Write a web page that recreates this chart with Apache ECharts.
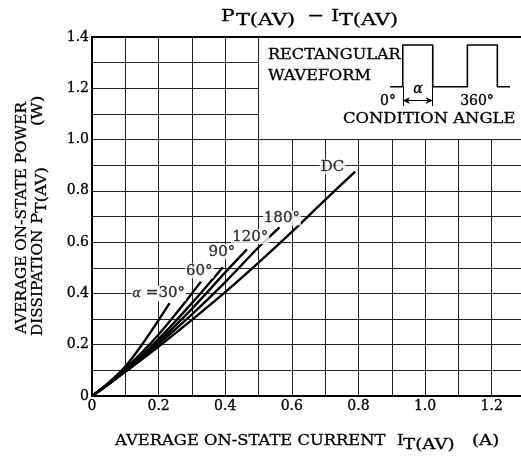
<!DOCTYPE html>
<html><head><meta charset="utf-8">
<script src="https://cdn.jsdelivr.net/npm/echarts@6/dist/echarts.min.js"></script>
<style>html,body{margin:0;padding:0;background:#fff}#c{width:521px;height:461px}</style>
</head><body><div id="c"></div>
<script>
// ---- data ----
const dcX   = [0, 0.05, 0.1, 0.2, 0.3, 0.4, 0.5, 0.6, 0.7, 0.79];
const dcY   = [0, 0.046, 0.094, 0.193, 0.297, 0.405, 0.52, 0.64, 0.765, 0.875];
const a180X = [0, 0.05, 0.1, 0.2, 0.3, 0.4, 0.5, 0.563];
const a180Y = [0, 0.047, 0.097, 0.203, 0.318, 0.444, 0.58, 0.658];
const a120X = [0, 0.05, 0.1, 0.2, 0.3, 0.4, 0.465];
const a120Y = [0, 0.047, 0.099, 0.212, 0.34, 0.482, 0.572];
const a90X  = [0, 0.05, 0.1, 0.2, 0.3, 0.393];
const a90Y  = [0, 0.048, 0.1, 0.222, 0.362, 0.502];
const a60X  = [0, 0.05, 0.1, 0.15, 0.2, 0.25, 0.3, 0.327];
const a60Y  = [0, 0.049, 0.106, 0.17, 0.24, 0.318, 0.4, 0.446];
const a30X  = [0, 0.05, 0.1, 0.15, 0.2, 0.233];
const a30Y  = [0, 0.052, 0.115, 0.2, 0.296, 0.362];

const labelText = ['{a|α}{b| =30°}', '60°', '90°', '120°', '180°', 'DC'];
const labelX    = [0.2, 0.322, 0.39, 0.475, 0.57, 0.722];
const labelY    = [0.4, 0.488, 0.563, 0.621, 0.694, 0.894];

const xTickLabels = ['0', '0.2', '0.4', '0.6', '0.8', '1.0', '1.2'];
const yTickLabels = ['0', '0.2', '0.4', '0.6', '0.8', '1.0', '1.2', '1.4'];

// inset waveform (drawn in axis units)
const waveX = [0.895, 0.933, 0.933, 1.023, 1.023, 1.127, 1.127, 1.217, 1.217, 1.255];
const waveY = [1.206, 1.206, 1.369, 1.369, 1.206, 1.206, 1.369, 1.369, 1.206, 1.206];
const insetBox = [[0.5, 1.0], [1.3, 1.4]];
const arrowX = [0.933, 1.023], arrowY = 1.152, extBottom = 1.131;

// ---- chart ----
const FONT = 'DejaVu Serif';
const INK = { textBorderColor: '#000', textBorderWidth: 0.3 };
const pairs = (xs, ys) => xs.map((x, i) => [x, ys[i]]);
function tickFmt(list) {
  return v => {
    const k = Math.round(v * 10);
    if (k % 2) return '';
    const s = k === 0 ? '0' : (k / 10).toFixed(1);
    return list.indexOf(s) >= 0 ? s : '';
  };
}
const curveStyle = { color: '#000', width: 2.4 };
function curve(name, xs, ys) {
  return { name, type: 'line', data: pairs(xs, ys), showSymbol: false, symbol: 'none',
    smooth: 0.3, lineStyle: curveStyle, silent: true, z: 3 };
}

const chart = echarts.init(document.getElementById('c'), null, { renderer: 'canvas' });
const txt = (text, x, y, size, sx, extra) => ({
  type: 'text', x, y, scaleX: sx || 1, silent: true, z: 100,
  style: Object.assign({ text, fontFamily: FONT, fontSize: size, fill: '#000',
    stroke: '#000', lineWidth: 0.3,
    textVerticalAlign: 'middle', textAlign: 'left' }, extra || {})
});

chart.setOption({
  animation: false,
  backgroundColor: '#fff',
  grid: { left: 92, top: 37, width: 433, height: 359, containLabel: false, outerBoundsMode: 'none' },
  xAxis: [{
    type: 'value', min: 0, max: 1.3, interval: 0.1, position: 'bottom',
    axisLine: { show: true, onZero: false, lineStyle: { color: '#000', width: 2 } },
    axisTick: { show: false },
    splitLine: { show: true, lineStyle: { color: '#222', width: 1 } },
    axisLabel: Object.assign({ formatter: tickFmt(xTickLabels), color: '#000', fontFamily: FONT, fontSize: 14, margin: 3,
      showMaxLabel: true, showMinLabel: true }, INK)
  }, {
    type: 'value', min: 0, max: 1.3, position: 'top', z: 10,
    axisLine: { show: true, onZero: false, lineStyle: { color: '#000', width: 2 } },
    axisTick: { show: false }, axisLabel: { show: false }, splitLine: { show: false }
  }],
  yAxis: [{
    type: 'value', min: 0, max: 1.4, interval: 0.1,
    axisLine: { show: true, onZero: false, lineStyle: { color: '#000', width: 2 } },
    axisTick: { show: false },
    splitLine: { show: true, lineStyle: { color: '#222', width: 1 } },
    axisLabel: Object.assign({ formatter: tickFmt(yTickLabels), color: '#000', fontFamily: FONT, fontSize: 14, margin: 3,
      showMaxLabel: true, showMinLabel: true }, INK)
  }],
  series: [
    { type: 'line', data: [], silent: true, z: 2,
      markArea: { silent: true, itemStyle: { color: '#fff', borderColor: '#222', borderWidth: 1 },
        data: [[{ coord: insetBox[0] }, { coord: insetBox[1] }]] } },
    { type: 'line', data: pairs(waveX, waveY), symbol: 'none', showSymbol: false, silent: true, z: 4,
      lineStyle: { color: '#000', width: 1.6 },
      markLine: { silent: true, symbol: ['arrow', 'arrow'], symbolSize: [5, 7], animation: false,
        label: { show: false }, lineStyle: { color: '#000', width: 1, type: 'solid' },
        data: [
          [{ coord: [arrowX[0], arrowY] }, { coord: [arrowX[1], arrowY] }],
          [{ coord: [arrowX[0], waveY[0]], symbol: 'none' }, { coord: [arrowX[0], extBottom], symbol: 'none' }],
          [{ coord: [arrowX[1], waveY[0]], symbol: 'none' }, { coord: [arrowX[1], extBottom], symbol: 'none' }]
        ] } },
    curve('DC', dcX, dcY),
    curve('180°', a180X, a180Y),
    curve('120°', a120X, a120Y),
    curve('90°', a90X, a90Y),
    curve('60°', a60X, a60Y),
    curve('30°', a30X, a30Y),
    { type: 'scatter', symbolSize: 0, silent: true, z: 5,
      data: labelX.map((x, i) => ({ value: [x, labelY[i]], name: labelText[i] })),
      label: Object.assign({ show: true, position: 'inside', formatter: p => p.name, color: '#000',
        fontFamily: FONT, fontSize: 15, backgroundColor: '#fff', padding: [0, 1],
        rich: { a: Object.assign({ fontFamily: FONT, fontStyle: 'italic', fontSize: 13, backgroundColor: '#fff' }, INK),
                b: Object.assign({ fontFamily: FONT, fontSize: 15, backgroundColor: '#fff' }, INK) } }, INK) }
  ],
  graphic: [
    // title
    txt('P', 221, 17, 17, 1.2),
    txt('T(AV)', 236, 21, 16, 1.3),
    txt('−', 307, 17, 17, 1.2),
    txt('I', 331, 17, 17, 1.2),
    txt('T(AV)', 339, 21, 16, 1.3),
    // x axis name
    txt('AVERAGE ON-STATE CURRENT', 115, 441, 15, 1.09),
    txt('I', 397, 441, 15, 1.1),
    txt('T(AV)', 403, 445, 14, 1.3),
    txt('(A)', 472, 441, 14, 1.3),
    // y axis name (rotated group)
    { type: 'group', x: 30, y: 216, rotation: Math.PI / 2, silent: true, children: [
      txt('AVERAGE ON-STATE POWER', -118, -8, 15, 1.02),
      txt('DISSIPATION', -120, 8, 15, 1.02),
      txt('P', -8, 8, 15, 1.1),
      txt('T(AV)', 3, 12, 14, 1.15),
      txt('(W)', 90, 8, 14, 1.2)
    ] },
    // inset text
    txt('RECTANGULAR', 268, 55, 14, 1.15),
    txt('WAVEFORM', 268, 76, 14, 1.15),
    txt('0°', 388, 101, 14, 1, { textAlign: 'center' }),
    txt('α', 418, 89, 14, 1, { textAlign: 'center', fontStyle: 'italic' }),
    txt('360°', 477, 101, 14, 1, { textAlign: 'center' }),
    txt('CONDITION ANGLE', 343, 119, 14, 1.17)
  ]
});
</script></body></html>
